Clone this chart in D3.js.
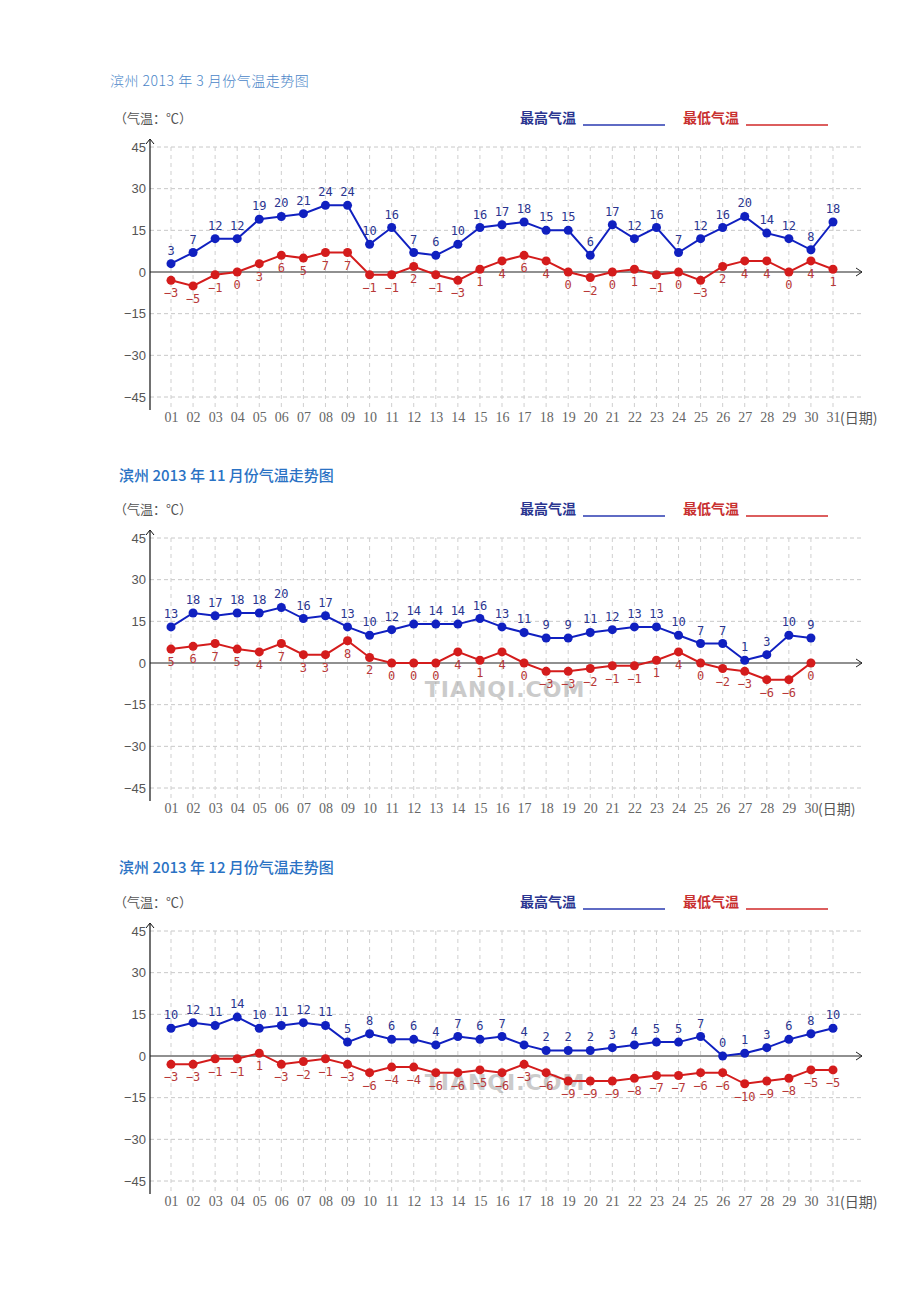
<!DOCTYPE html>
<html>
<head>
<meta charset="utf-8">
<script src="https://cdn.jsdelivr.net/npm/d3@7"></script>
<style>
  body { margin: 0; background: #fff; }
  svg { display: block; }
</style>
</head>
<body>
<svg id="chart" width="920" height="1302"></svg>
<script>
// month titles
var titles = ["滨州 2013 年 3 月份气温走势图", "滨州 2013 年 11 月份气温走势图", "滨州 2013 年 12 月份气温走势图"];

// March
var marHigh = [3, 7, 12, 12, 19, 20, 21, 24, 24, 10, 16, 7, 6, 10, 16, 17, 18, 15, 15, 6, 17, 12, 16, 7, 12, 16, 20, 14, 12, 8, 18];
var marLow = [-3, -5, -1, 0, 3, 6, 5, 7, 7, -1, -1, 2, -1, -3, 1, 4, 6, 4, 0, -2, 0, 1, -1, 0, -3, 2, 4, 4, 0, 4, 1];

// November
var novHigh = [13, 18, 17, 18, 18, 20, 16, 17, 13, 10, 12, 14, 14, 14, 16, 13, 11, 9, 9, 11, 12, 13, 13, 10, 7, 7, 1, 3, 10, 9];
var novLow = [5, 6, 7, 5, 4, 7, 3, 3, 8, 2, 0, 0, 0, 4, 1, 4, 0, -3, -3, -2, -1, -1, 1, 4, 0, -2, -3, -6, -6, 0];

// December
var decHigh = [10, 12, 11, 14, 10, 11, 12, 11, 5, 8, 6, 6, 4, 7, 6, 7, 4, 2, 2, 2, 3, 4, 5, 5, 7, 0, 1, 3, 6, 8, 10];
var decLow = [-3, -3, -1, -1, 1, -3, -2, -1, -3, -6, -4, -4, -6, -6, -5, -6, -3, -6, -9, -9, -9, -8, -7, -7, -6, -6, -10, -9, -8, -5, -5];

var yTicks = [45, 30, 15, 0, -15, -30, -45];
var dayLabels = d3.range(1, 32).map(function(d) { return (d < 10 ? "0" : "") + d; });

var svg = d3.select("#chart");

var highColor = "#1020c0";
var highText = "#2a3590";
var lowColor = "#d41c1c";
var lowText = "#b83838";

var drawChart = function(top, titleY, titleStyle, title, high, low, watermark) {
  var g = svg.append("g");
  var y = d3.scaleLinear().domain([-45, 45]).range([top + 250, top]);
  var x = d3.scaleLinear().domain([1, 31]).range([171, 833]);
  var days = d3.range(1, high.length + 1);

  // title
  g.append("text")
    .attr("x", titleStyle.x)
    .attr("y", titleY)
    .style("font-family", "'Noto Sans CJK SC', 'Liberation Serif', serif")
    .style("font-size", titleStyle.size + "px")
    .style("font-weight", titleStyle.weight)
    .style("fill", titleStyle.color)
    .style("letter-spacing", titleStyle.spacing)
    .text(title);

  // unit + legend
  g.append("text")
    .attr("x", 114)
    .attr("y", top - 24)
    .style("font-family", "'Noto Sans CJK SC', sans-serif")
    .style("font-size", "13px")
    .style("fill", "#555")
    .text("（气温：℃）");

  g.append("text")
    .attr("x", 520)
    .attr("y", top - 24)
    .style("font-family", "'Noto Sans CJK SC', sans-serif")
    .style("font-size", "14px")
    .style("font-weight", "bold")
    .style("fill", "#2a3590")
    .text("最高气温");
  g.append("line")
    .attr("x1", 583).attr("x2", 665)
    .attr("y1", top - 22).attr("y2", top - 22)
    .attr("stroke", "#2a3ab0").attr("stroke-width", 1.5);

  g.append("text")
    .attr("x", 683)
    .attr("y", top - 24)
    .style("font-family", "'Noto Sans CJK SC', sans-serif")
    .style("font-size", "14px")
    .style("font-weight", "bold")
    .style("fill", "#c83030")
    .text("最低气温");
  g.append("line")
    .attr("x1", 746).attr("x2", 828)
    .attr("y1", top - 22).attr("y2", top - 22)
    .attr("stroke", "#d02828").attr("stroke-width", 1.5);

  // grid
  g.selectAll("line.hgrid")
    .data(yTicks.filter(function(d) { return d !== 0; }))
    .enter()
    .append("line")
    .attr("class", "hgrid")
    .attr("x1", 150).attr("x2", 862)
    .attr("y1", function(d) { return y(d); })
    .attr("y2", function(d) { return y(d); })
    .attr("stroke", "#c8c8c8")
    .attr("stroke-dasharray", "4,3");

  g.selectAll("line.vgrid")
    .data(days)
    .enter()
    .append("line")
    .attr("class", "vgrid")
    .attr("x1", function(d) { return x(d); })
    .attr("x2", function(d) { return x(d); })
    .attr("y1", top)
    .attr("y2", top + 263)
    .attr("stroke", "#cfcfcf")
    .attr("stroke-dasharray", "4,4");

  // y axis
  var yAxis = d3.axisLeft(y).tickValues(yTicks).tickSize(0).tickPadding(4);
  var ya = g.append("g")
    .attr("transform", "translate(150,0)")
    .call(yAxis);
  ya.select(".domain").remove();
  ya.selectAll("text")
    .style("font-family", "'Liberation Sans', Arial, sans-serif")
    .style("font-size", "13px")
    .style("fill", "#555");

  g.append("line")
    .attr("x1", 150).attr("x2", 150)
    .attr("y1", top - 7).attr("y2", top + 263)
    .attr("stroke", "#111").attr("stroke-width", 1.2);
  g.append("path")
    .attr("d", "M146," + (top - 3) + "L150," + (top - 8) + "L154," + (top - 3))
    .attr("fill", "none").attr("stroke", "#111");

  // zero line with arrow
  g.append("line")
    .attr("x1", 150).attr("x2", 862)
    .attr("y1", y(0)).attr("y2", y(0))
    .attr("stroke", "#222").attr("stroke-width", 1.2);
  g.append("path")
    .attr("d", "M856," + (y(0) - 4) + "L862," + y(0) + "L856," + (y(0) + 4))
    .attr("fill", "none").attr("stroke", "#222");

  // x axis labels
  var xAxis = d3.axisBottom(x)
    .tickValues(days)
    .tickSize(0)
    .tickPadding(0)
    .tickFormat(function(d) { return dayLabels[d - 1]; });
  var xa = g.append("g")
    .attr("transform", "translate(0," + (top + 265) + ")")
    .call(xAxis);
  xa.select(".domain").remove();
  xa.selectAll("text")
    .style("font-family", "'Liberation Serif', 'Times New Roman', serif")
    .style("font-size", "14px")
    .style("fill", "#666");

  g.append("text")
    .attr("x", x(high.length) + 7)
    .attr("y", top + 276)
    .style("font-family", "'Noto Sans CJK SC', sans-serif")
    .style("font-size", "14px")
    .style("fill", "#555")
    .text("(日期)");

  if (watermark) {
    g.append("text")
      .attr("x", 505)
      .attr("y", y(0) + 34)
      .attr("text-anchor", "middle")
      .style("font-family", "'DejaVu Sans', sans-serif")
      .style("font-size", "22px")
      .style("font-weight", "bold")
      .style("fill", "#999")
      .style("opacity", 0.5)
      .style("letter-spacing", "1px")
      .text("TIANQI.COM");
  }

  var line = d3.line()
    .x(function(d, i) { return x(i + 1); })
    .y(function(d) { return y(d); });

  var series = [
    { values: low, color: lowColor, text: lowText, dy: 17 },
    { values: high, color: highColor, text: highText, dy: -9 }
  ];

  series.forEach(function(s) {
    g.append("path")
      .datum(s.values)
      .attr("d", line)
      .attr("fill", "none")
      .attr("stroke", s.color)
      .attr("stroke-width", 2);

    g.selectAll(null)
      .data(s.values)
      .enter()
      .append("circle")
      .attr("cx", function(d, i) { return x(i + 1); })
      .attr("cy", function(d) { return y(d); })
      .attr("r", 4.5)
      .attr("fill", s.color);

    g.selectAll(null)
      .data(s.values)
      .enter()
      .append("text")
      .attr("x", function(d, i) { return x(i + 1); })
      .attr("y", function(d) { return y(d) + s.dy; })
      .attr("text-anchor", "middle")
      .style("font-family", "'DejaVu Sans Mono', monospace")
      .style("font-size", "12px")
      .style("fill", s.text)
      .text(function(d) { return d < 0 ? "−" + Math.abs(d) : d; });
  });
};

drawChart(147, 86, { x: 110, size: 14, weight: "300", color: "#4a86c8", spacing: "0.5px" }, titles[0], marHigh, marLow, false);
drawChart(538, 481, { x: 119, size: 15, weight: "500", color: "#2a72c4", spacing: "0px" }, titles[1], novHigh, novLow, true);
drawChart(931, 873, { x: 119, size: 15, weight: "500", color: "#2a72c4", spacing: "0px" }, titles[2], decHigh, decLow, true);
</script>
</body>
</html>
